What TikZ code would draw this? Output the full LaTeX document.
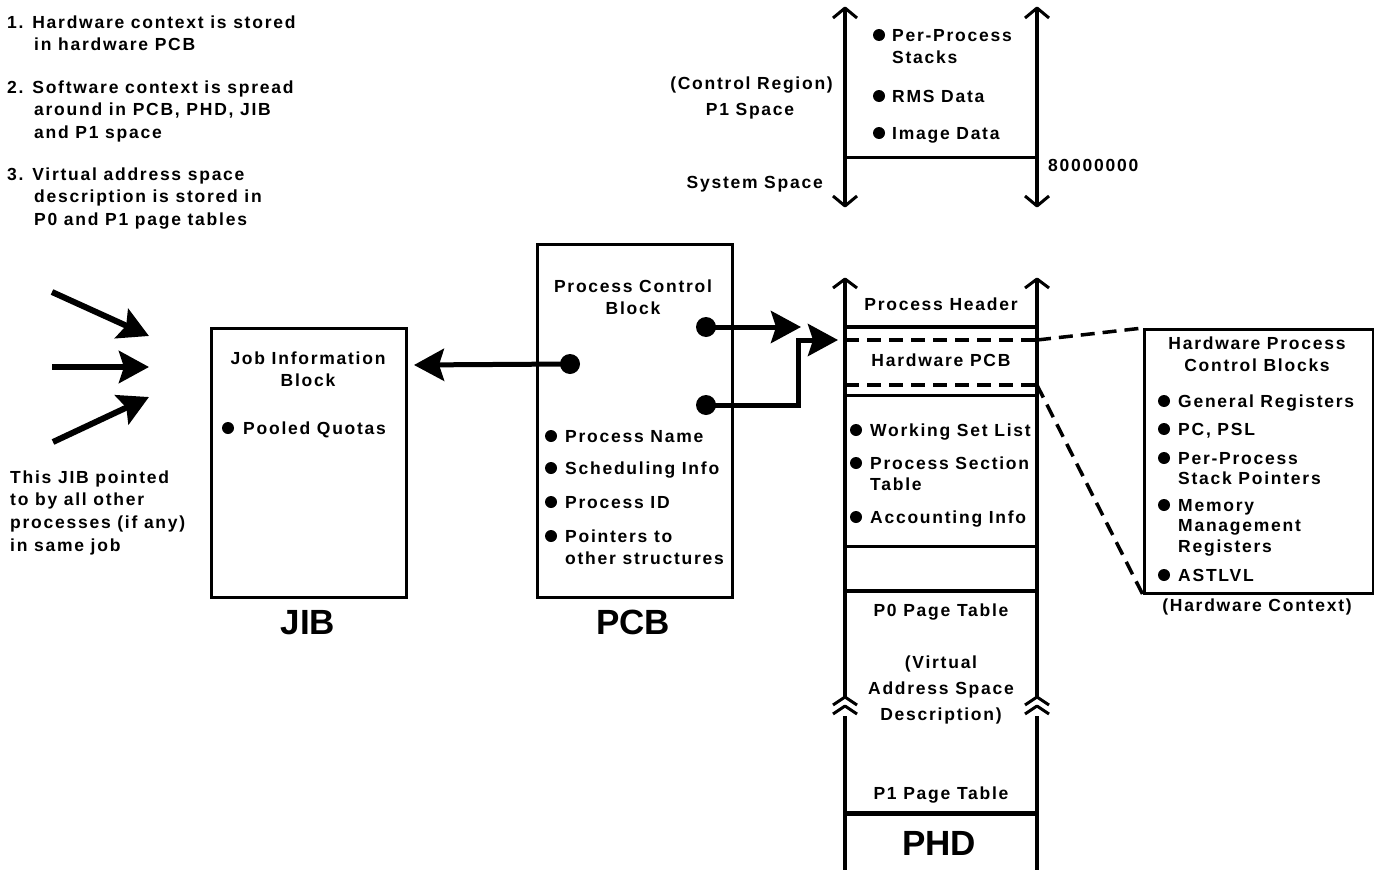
\documentclass[tikz,border=0pt]{standalone}
\usepackage{fontspec}
\setmainfont{Liberation Sans}[LetterSpace=10]
\newfontfamily\bigfont{Liberation Sans}
\usetikzlibrary{arrows.meta}
\begin{document}
\begin{tikzpicture}[x=1pt,y=-1pt,
  font=\fontsize{17.5}{22.7}\selectfont\bfseries,
  lbl/.style={inner sep=0pt, anchor=base west, align=left},
  clbl/.style={inner sep=0pt, anchor=base, align=center},
  rlbl/.style={inner sep=0pt, anchor=base east, align=right},
  biglbl/.style={inner sep=0pt, anchor=base, font=\fontsize{35}{40}\selectfont\bigfont\bfseries},
  boxnode/.style={draw, line width=3pt, anchor=north west, inner sep=0pt},
  sepline/.style={line width=4pt},
  sideline/.style={line width=3.5pt},
  caret/.style={line width=3pt, line join=round},
  dashline/.style={line width=3.5pt, dash pattern=on 14pt off 8pt},
  bigarrow/.style={line width=6pt, -{Stealth[length=30pt,width=32pt,inset=5pt]}},
  ptrarrow/.style={line width=5pt, -{Stealth[length=30pt,width=32pt,inset=5pt]}},
  dot/.style={fill=black},
]
\useasboundingbox (0,0) rectangle (1374,870);

% ---------- top-left notes (anchor = baseline of last line) ----------
\node[lbl] (n1) at (7,50.7) {1. Hardware context is stored\\\hspace*{27pt}in hardware PCB};
\node[lbl] (n2) at (7,138.4) {2. Software context is spread\\\hspace*{27pt}around in PCB, PHD, JIB\\\hspace*{27pt}and P1 space};
\node[lbl] (n3) at (7,225.4) {3. Virtual address space\\\hspace*{27pt}description is stored in\\\hspace*{27pt}P0 and P1 page tables};

% ---------- P1 space ----------
\draw[sideline] (845,9) -- (845,205);
\draw[sideline] (1037,9) -- (1037,205);
\draw[caret] (833,18) -- (845,8) -- (857,18);
\draw[caret] (1025,18) -- (1037,8) -- (1049,18);
\draw[caret] (833,196) -- (845,206) -- (857,196);
\draw[caret] (1025,196) -- (1037,206) -- (1049,196);
\draw[line width=3pt] (845,157) -- (1037,157);
\fill[dot] (879,35) circle (6pt);
\fill[dot] (879,96) circle (6pt);
\fill[dot] (879,133) circle (6pt);
\node[lbl] (pps) at (892,63.7) {Per-Process\\Stacks};
\node[lbl] (rms) at (892,102) {RMS Data};
\node[lbl] (img) at (892,139) {Image Data};
\node[rlbl] (ctl) at (833,89) {(Control Region)};
\node[clbl] (p1s) at (750,115) {P1 Space};
\node[rlbl] (sys) at (823,188) {System Space};
\node[lbl] (addr) at (1048,171) {80000000};

% ---------- incoming arrows ----------
\coordinate (a1s) at (52,292); \coordinate (a1e) at (149,336);
\coordinate (a2s) at (52,367); \coordinate (a2e) at (149,367);
\coordinate (a3s) at (53,442); \coordinate (a3e) at (149,397);
\draw[bigarrow] (a1s) -- (a1e);
\draw[bigarrow] (a2s) -- (a2e);
\draw[bigarrow] (a3s) -- (a3e);
\node[lbl] (jibnote) at (10,551.1) {This JIB pointed\\to by all other\\processes (if any)\\in same job};

% ---------- JIB ----------
\node[boxnode, minimum width=195pt, minimum height=269pt] (jib) at (210,327) {};
\node[clbl] (jibt) at (308,386.7) {Job Information\\Block};
\fill[dot] (228,428) circle (6pt);
\node[lbl] (pq) at (243,434) {Pooled Quotas};
\node[biglbl] (jibl) at (308,634) {JIB};

% ---------- PCB ----------
\node[boxnode, minimum width=195pt, minimum height=353pt] (pcb) at (536,243) {};
\node[clbl] (pcbt) at (633,314.7) {Process Control\\Block};
\fill[dot] (551,436) circle (6pt);
\fill[dot] (551,468) circle (6pt);
\fill[dot] (551,502) circle (6pt);
\fill[dot] (551,536) circle (6pt);
\node[lbl] (pn) at (565,442) {Process Name};
\node[lbl] (si) at (565,474) {Scheduling Info};
\node[lbl] (pid) at (565,508) {Process ID};
\node[lbl] (ptr) at (565,564.7) {Pointers to\\other structures};
\node[biglbl] (pcbl) at (633,634) {PCB};

% pointers
\coordinate (d0) at (570,364);
\coordinate (d1) at (706,327);
\coordinate (d2) at (706,405);
\fill[dot] (d0) circle (10pt);
\fill[dot] (d1) circle (10pt);
\fill[dot] (d2) circle (10pt);
\coordinate (jibtip) at (414,365);
\coordinate (phdtip) at (801,327);
\coordinate (bend1) at (798,405);
\coordinate (bend2) at (798,340);
\coordinate (hwtip) at (838,340);
\draw[ptrarrow] (d0) -- (jibtip);
\draw[ptrarrow] (d1) -- (phdtip);
\draw[ptrarrow] (d2) -- (bend1) -- (bend2) -- (hwtip);

% ---------- PHD ----------
\draw[sideline] (845,280) -- (845,698);
\draw[sideline] (845,716) -- (845,870);
\draw[sideline] (1037,280) -- (1037,698);
\draw[sideline] (1037,716) -- (1037,870);
\draw[caret] (833,288) -- (845,279) -- (857,288);
\draw[caret] (1025,288) -- (1037,279) -- (1049,288);
\draw[caret] (833,705) -- (845,697) -- (857,705);
\draw[caret] (833,714) -- (845,706) -- (857,714);
\draw[caret] (1025,705) -- (1037,697) -- (1049,705);
\draw[caret] (1025,714) -- (1037,706) -- (1049,714);
\draw[sepline] (845,327) -- (1037,327);
\draw[dashline] (845,340) -- (1037,340);
\draw[dashline] (845,385) -- (1037,385);
\draw[line width=3pt] (845,395) -- (1037,395);
\draw[line width=3pt] (845,546) -- (1037,546);
\draw[sepline] (845,591) -- (1037,591);
\draw[line width=5pt] (845,813) -- (1037,813);
\node[clbl] (ph) at (941,310) {Process Header};
\node[clbl] (hwp) at (941,366) {Hardware PCB};
\fill[dot] (856,430) circle (6pt);
\fill[dot] (856,463) circle (6pt);
\fill[dot] (856,517) circle (6pt);
\node[lbl] (wsl) at (870,436) {Working Set List};
\node[lbl] (pst) at (870,490) {Process Section\\[-1.7pt]Table};
\node[lbl] (acc) at (870,523) {Accounting Info};
\node[clbl] (p0) at (941,616) {P0 Page Table};
\node[clbl] (vas) at (941,720) {(Virtual\\[3pt]Address Space\\[3pt]Description)};
\node[clbl] (p1) at (941,799) {P1 Page Table};
\node[biglbl] (phdl) at (939,855) {PHD};

% ---------- Hardware PCB box ----------
\node[boxnode, minimum width=229pt, minimum height=264pt] (hw) at (1143,328) {};
\coordinate (hwa) at (1037,340);
\coordinate (hwb) at (1037,385);
\draw[dashline] (hwa) -- (hw.north west);
\draw[dashline] (hwb) -- (hw.south west);
\node[clbl] (hwt) at (1257,371.7) {Hardware Process\\Control Blocks};
\fill[dot] (1164,401) circle (6pt);
\fill[dot] (1164,429) circle (6pt);
\fill[dot] (1164,458) circle (6pt);
\fill[dot] (1164,505) circle (6pt);
\fill[dot] (1164,575) circle (6pt);
\node[lbl] (gr) at (1178,407) {General Registers};
\node[lbl] (pc) at (1178,435) {PC, PSL};
\node[lbl] (psp) at (1178,484.7) {Per-Process\\[-2pt]Stack Pointers};
\node[lbl] (mm) at (1178,552.4) {Memory\\[-2pt]Management\\[-2pt]Registers};
\node[lbl] (ast) at (1178,581) {ASTLVL};
\node[clbl] (hwc) at (1257,611) {(Hardware Context)};
\end{tikzpicture}
\end{document}
